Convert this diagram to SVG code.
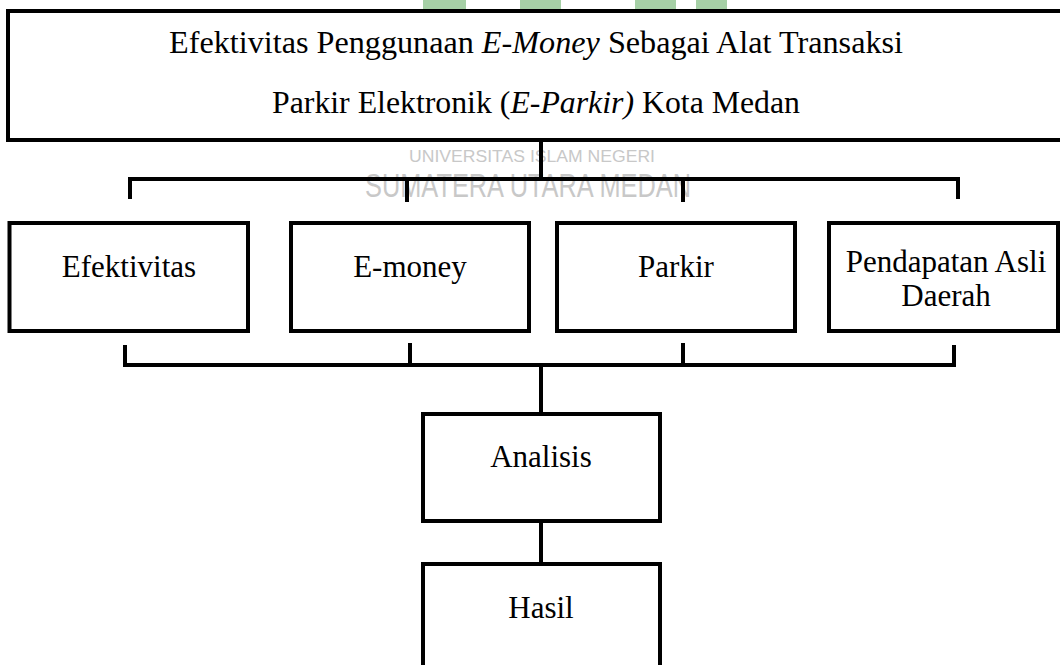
<svg xmlns="http://www.w3.org/2000/svg" width="1060" height="665" viewBox="0 0 1060 665">
  <style>
    .box { fill: #ffffff; stroke: #000000; stroke-width: 4; }
    .conn { fill: none; stroke: #000000; stroke-width: 4; stroke-linecap: square; }
    .t { font-family: "Liberation Serif", "Times New Roman", serif; font-size: 31px; fill: #000000; text-anchor: middle; }
    .wm { font-family: "Liberation Sans Narrow", "Liberation Sans", sans-serif; fill: #c8c8c8; text-anchor: middle; }
    .logo { fill: #a6d0a6; }
  </style>
  <rect width="1060" height="665" fill="#ffffff"/>

  <g id="watermark">
    <rect class="logo" x="423" y="0" width="43" height="12"/>
    <rect class="logo" x="520" y="0" width="41" height="12"/>
    <rect class="logo" x="635" y="0" width="41" height="12"/>
    <rect class="logo" x="696" y="0" width="31" height="12"/>
    <text class="wm" x="532" y="162" font-size="16" textLength="246" lengthAdjust="spacingAndGlyphs">UNIVERSITAS ISLAM NEGERI</text>
    <text class="wm" x="528" y="197" font-size="33" textLength="326" lengthAdjust="spacingAndGlyphs">SUMATERA UTARA MEDAN</text>
  </g>

  <g id="title">
    <rect class="box" x="8" y="11" width="1070" height="129"/>
    <text class="t" x="536" y="53" font-size="33" textLength="734" lengthAdjust="spacingAndGlyphs">Efektivitas Penggunaan <tspan font-style="italic">E-Money</tspan> Sebagai Alat Transaksi</text>
    <text class="t" x="536" y="113" font-size="33" textLength="528" lengthAdjust="spacingAndGlyphs">Parkir Elektronik (<tspan font-style="italic">E-Parkir)</tspan> Kota Medan</text>
  </g>

  <g id="connectors">
    <path class="conn" d="M541 141 V179 M130 197 V179 H958 V197 M407 179 V200 M683 179 V200"/>
    <path class="conn" d="M125 347 V365 H954 V347 M410 345 V365 M683 345 V365 M541 365 V414"/>
    <path class="conn" d="M541 521 V564"/>
  </g>

  <g id="efektivitas">
    <rect class="box" x="9.5" y="223" width="238.5" height="108"/>
    <text class="t" x="129" y="277">Efektivitas</text>
  </g>
  <g id="emoney">
    <rect class="box" x="291" y="223" width="238" height="108"/>
    <text class="t" x="410" y="277">E-money</text>
  </g>
  <g id="parkir">
    <rect class="box" x="557" y="223" width="238" height="108"/>
    <text class="t" x="676" y="277">Parkir</text>
  </g>
  <g id="pad">
    <rect class="box" x="829" y="223" width="229" height="108"/>
    <text class="t" x="946" y="272" font-size="28">Pendapatan Asli</text>
    <text class="t" x="946" y="306" font-size="28">Daerah</text>
  </g>
  <g id="analisis">
    <rect class="box" x="423" y="414" width="237" height="107"/>
    <text class="t" x="541" y="467">Analisis</text>
  </g>
  <g id="hasil">
    <rect class="box" x="423" y="564" width="237" height="120"/>
    <text class="t" x="541" y="618">Hasil</text>
  </g>
</svg>
